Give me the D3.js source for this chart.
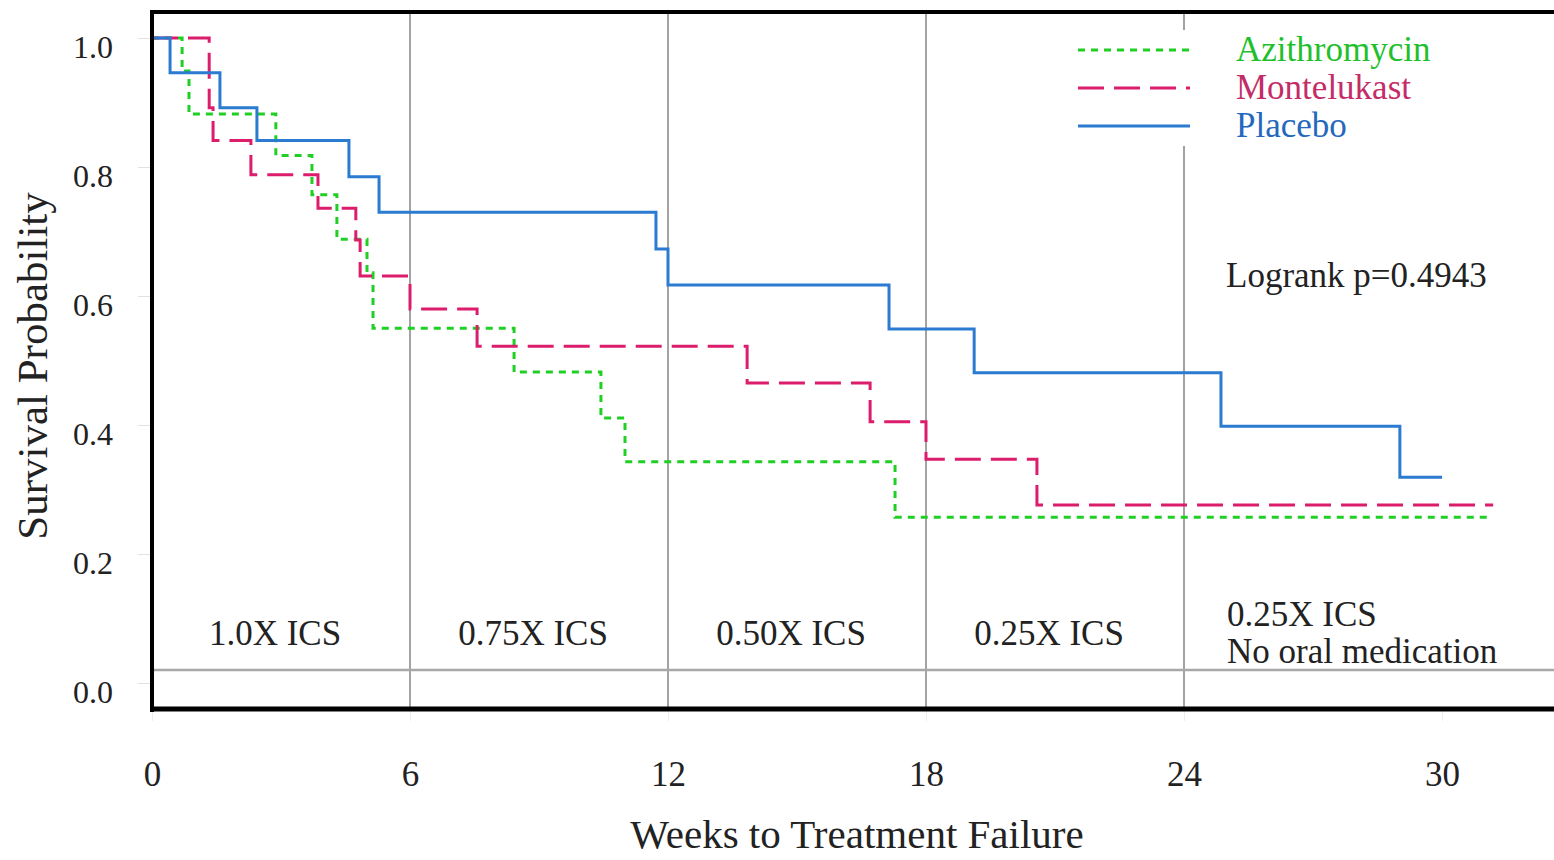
<!DOCTYPE html>
<html>
<head>
<meta charset="utf-8">
<script src="https://cdn.jsdelivr.net/npm/d3@7"></script>
<style>
  body { margin: 0; background: #fff; }
  svg { display: block; font-family: "Liberation Serif", "Times New Roman", serif; }
</style>
</head>
<body>
<div id="chart"></div>
<script>
// Kaplan-Meier steps (weeks, survival probability)
const placeboTimes = [0, 0.42, 1.58, 2.44, 4.58, 5.28, 11.72, 12.0, 17.14, 19.12, 24.86, 29.02, 30.0];
const placeboSurv  = [1.0, 0.946, 0.892, 0.841, 0.785, 0.730, 0.673, 0.617, 0.549, 0.481, 0.398, 0.319, 0.319];

const montelukastTimes = [0, 1.33, 1.42, 2.30, 3.86, 4.74, 4.84, 6.0, 7.56, 13.84, 16.70, 18.0, 20.58, 31.19];
const montelukastSurv  = [1.0, 0.892, 0.841, 0.788, 0.736, 0.687, 0.631, 0.580, 0.522, 0.465, 0.405, 0.347, 0.276, 0.276];

const azithroTimes = [0, 0.70, 0.86, 2.88, 3.72, 4.30, 5.0, 5.14, 8.42, 10.44, 11.0, 17.28, 31.05];
const azithroSurv  = [1.0, 0.949, 0.882, 0.818, 0.757, 0.688, 0.636, 0.550, 0.482, 0.411, 0.343, 0.257, 0.257];

const xTicks = [0, 6, 12, 18, 24, 30];
const yTicks = [0, 0.2, 0.4, 0.6, 0.8, 1.0];
const phaseBreaks = [6, 12, 18, 24];
const phaseLabels = ['1.0X ICS', '0.75X ICS', '0.50X ICS', '0.25X ICS'];
const lastPhaseLabel = ['0.25X ICS', 'No oral medication'];
const logrankText = 'Logrank p=0.4943';

const width = 1554, height = 860;
const serif = '"Liberation Serif", "Times New Roman", serif';

const svg = d3.select('#chart')
    .append('svg')
    .attr('width', width)
    .attr('height', height);

svg.append('rect').attr('width', width).attr('height', height).attr('fill', '#fff');

const x = d3.scaleLinear().domain([0, 30]).range([152, 1442]);
const y = d3.scaleLinear().domain([0, 1]).range([683, 38]);

const frameTop = 12, frameBottom = 709, frameLeft = 152;

// faint y ticks + labels
const yAxis = svg.append('g')
    .attr('transform', `translate(${frameLeft - 2}, 0)`)
    .call(d3.axisLeft(y).tickValues(yTicks).tickSize(12).tickPadding(25).tickFormat(d3.format('.1f')))
    .attr('font-family', serif);
yAxis.select('.domain').remove();
yAxis.selectAll('line').attr('stroke', '#e2e2e2');
yAxis.selectAll('text')
    .attr('dy', '0.62em')
    .style('font-size', '32px')
    .attr('fill', '#222');

// faint x ticks + labels
const xAxis = svg.append('g')
    .attr('transform', `translate(0, ${frameBottom + 2})`)
    .call(d3.axisBottom(x).tickValues(xTicks).tickSize(10).tickPadding(40))
    .attr('font-family', serif);
xAxis.select('.domain').remove();
xAxis.selectAll('line').attr('stroke', '#eeeeee');
xAxis.selectAll('text')
    .style('font-size', '35px')
    .attr('fill', '#222');

// phase separators
svg.append('g')
    .selectAll('line')
    .data(phaseBreaks)
    .enter()
    .append('line')
    .attr('x1', d => x(d)).attr('x2', d => x(d))
    .attr('y1', frameTop).attr('y2', frameBottom)
    .attr('stroke', '#a3a3a3')
    .attr('stroke-width', 2);

// grey reference line just above zero
svg.append('line')
    .attr('x1', frameLeft).attr('x2', width)
    .attr('y1', y(0) - 13).attr('y2', y(0) - 13)
    .attr('stroke', '#a8a8a8')
    .attr('stroke-width', 2.5);

// phase labels
svg.append('g')
    .selectAll('text')
    .data(phaseLabels)
    .enter()
    .append('text')
    .attr('x', (d, i) => x(i * 6 + 3) - 6)
    .attr('y', 645)
    .attr('text-anchor', 'middle')
    .style('font-size', '35px')
    .attr('fill', '#222')
    .text(d => d);

svg.append('g')
    .selectAll('text')
    .data(lastPhaseLabel)
    .enter()
    .append('text')
    .attr('x', x(24) + 43)
    .attr('y', (d, i) => 626 + i * 37)
    .style('font-size', '35px')
    .attr('fill', '#222')
    .text(d => d);

// survival curves
const series = [
    {name: 'Azithromycin', times: azithroTimes, surv: azithroSurv, color: '#1fcf24', text: '#22bf2c', dash: '7,6'},
    {name: 'Montelukast', times: montelukastTimes, surv: montelukastSurv, color: '#dc1d6c', text: '#c42c68', dash: '26,10'},
    {name: 'Placebo', times: placeboTimes, surv: placeboSurv, color: '#2b7bd1', text: '#2468bd', dash: null}
];

const line = d3.line()
    .x(d => x(d[0]))
    .y(d => y(d[1]))
    .curve(d3.curveStepAfter);

svg.append('g')
    .selectAll('path')
    .data(series)
    .enter()
    .append('path')
    .attr('d', s => line(d3.zip(s.times, s.surv)))
    .attr('fill', 'none')
    .attr('stroke', s => s.color)
    .attr('stroke-width', 3)
    .attr('stroke-dasharray', s => s.dash);

// legend (white box hides the 24-week separator)
const legend = svg.append('g');
legend.append('rect')
    .attr('x', 1062).attr('y', 30)
    .attr('width', 400).attr('height', 116)
    .attr('fill', '#fff');

const legendRows = legend.selectAll('g')
    .data(series)
    .enter()
    .append('g')
    .attr('transform', (d, i) => `translate(0, ${50 + i * 38})`);

legendRows.append('line')
    .attr('x1', 1078).attr('x2', 1190)
    .attr('y1', 0).attr('y2', 0)
    .attr('stroke', d => d.color)
    .attr('stroke-width', 3)
    .attr('stroke-dasharray', d => d.dash);

legendRows.append('text')
    .attr('x', 1236)
    .attr('y', 11)
    .style('font-size', '35px')
    .attr('fill', d => d.text)
    .text(d => d.name);

svg.append('text')
    .attr('x', 1226)
    .attr('y', 287)
    .style('font-size', '35px')
    .attr('fill', '#222')
    .text(logrankText);

// frame (no right edge, the figure is cropped there)
const frame = svg.append('g').attr('stroke', '#000');
frame.append('line').attr('x1', frameLeft - 2).attr('x2', width).attr('y1', frameTop).attr('y2', frameTop).attr('stroke-width', 4);
frame.append('line').attr('x1', frameLeft).attr('x2', frameLeft).attr('y1', frameTop - 2).attr('y2', frameBottom + 3).attr('stroke-width', 4);
frame.append('line').attr('x1', frameLeft - 2).attr('x2', width).attr('y1', frameBottom).attr('y2', frameBottom).attr('stroke-width', 5);

// axis titles
svg.append('text')
    .attr('x', 857)
    .attr('y', 848)
    .attr('text-anchor', 'middle')
    .style('font-size', '41px')
    .attr('fill', '#222')
    .text('Weeks to Treatment Failure');

svg.append('text')
    .attr('transform', 'translate(47, 366) rotate(-90)')
    .attr('text-anchor', 'middle')
    .style('font-size', '43px')
    .attr('fill', '#222')
    .text('Survival Probability');
</script>
</body>
</html>
